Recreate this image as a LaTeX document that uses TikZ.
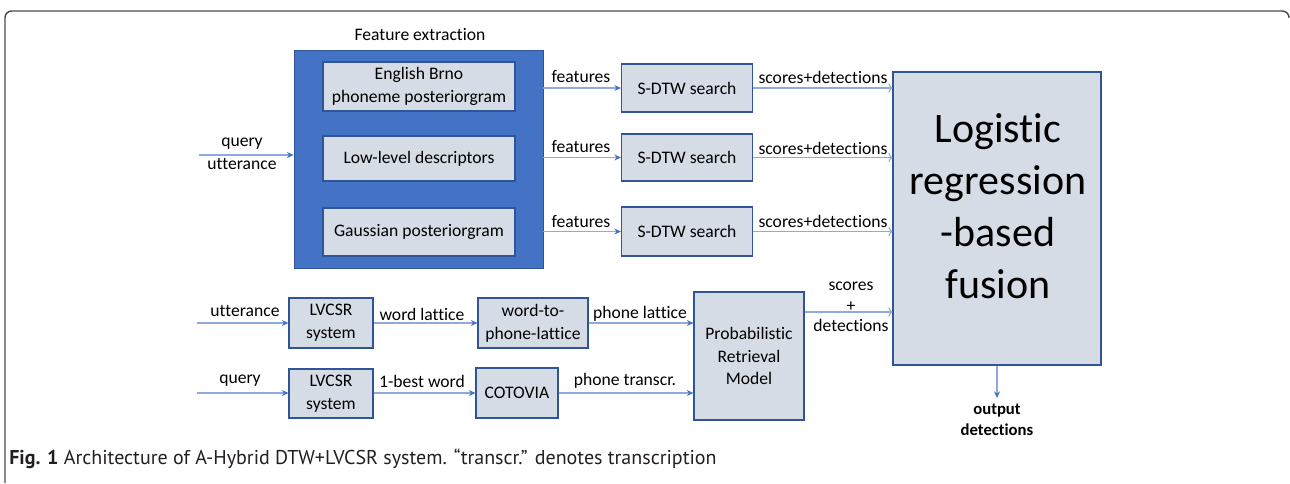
\documentclass[tikz,border=0pt]{standalone}
\usepackage{fontspec}
\setmainfont{Carlito}[Ligatures={NoCommon,NoContextual}]
\newfontfamily\capfont{PT Sans}
\usetikzlibrary{arrows.meta}
\definecolor{fxblue}{HTML}{4472C4}
\definecolor{boxfill}{HTML}{D6DCE5}
\definecolor{boxline}{HTML}{2F5597}
\definecolor{arrline}{HTML}{8FAADC}
\definecolor{framec}{HTML}{4D4D4D}
\definecolor{capc}{HTML}{231F20}
\begin{document}
\begin{tikzpicture}[x=0.75pt,y=-0.75pt,
  txt/.style={font=\fontsize{13.2}{17}\selectfont},
  bigbox/.style={draw=boxline, line width=0.6pt, fill=fxblue, inner sep=0pt},
  box/.style={draw=boxline, line width=0.8pt, fill=boxfill, inner sep=0pt, align=center, txt},
  lbl/.style={inner sep=0pt, align=center, txt},
  arr/.style={draw=arrline, line width=0.8pt, -{Stealth[length=5pt,width=4.5pt,color=fxblue]}},
  oarr/.style={draw=arrline, line width=0.8pt, -{To[length=3pt,width=7pt]}}]
\useasboundingbox (0,0) rectangle (1290,483);
\draw[framec, line width=1.1pt, rounded corners=5pt] (5,483) -- (5,11) -- (1289,11) -- (1289,16);

% feature extraction block
\node[lbl] (fetitle) at (420,35) {Feature extraction};
\node[bigbox, minimum width=186.75pt, minimum height=163.5pt] (fe) at (418.5,159) {};
\node[box, minimum width=144pt, minimum height=36.75pt] (eb) at (419,86.5) {English Brno\\phoneme posteriorgram};
\node[box, minimum width=144pt, minimum height=33.75pt] (ll) at (419,158.5) {Low-level descriptors};
\node[box, minimum width=144pt, minimum height=36pt] (gp) at (419,232) {Gaussian posteriorgram};

% S-DTW
\node[box, minimum width=98.25pt, minimum height=36pt] (s1) at (687,88) {S-DTW search};
\node[box, minimum width=98.25pt, minimum height=35.25pt] (s2) at (687,157.5) {S-DTW search};
\node[box, minimum width=98.25pt, minimum height=36.75pt] (s3) at (687,231.5) {S-DTW search};

% fusion
\node[box, minimum width=156pt, minimum height=219.75pt] (lr) at (997,218.5) {};
\node[lbl, font=\fontsize{31.5}{39}\selectfont] (lrt) at (998,206) {Logistic\\regression\\-based\\fusion};

% lower branch
\node[box, minimum width=63pt, minimum height=37.5pt] (lv1) at (331,323) {LVCSR\\system};
\node[box, minimum width=82.5pt, minimum height=37.5pt] (w2p) at (533,323) {word-to-\\phone-lattice};
\node[box, minimum width=63pt, minimum height=36.75pt] (lv2) at (331,393.5) {LVCSR\\system};
\node[box, minimum width=61.5pt, minimum height=37.5pt] (cot) at (517,393) {COTOVIA};
\node[box, minimum width=82.5pt, minimum height=96pt] (prm) at (749,356) {Probabilistic\\Retrieval\\Model};

% labels
\node[lbl] (lqu) at (242,154) {query\\utterance};
\node[lbl] (lf1) at (581,77) {features};
\node[lbl] (lf2) at (581,147) {features};
\node[lbl] (lf3) at (581,222) {features};
\node[lbl] (ls1) at (823,77) {scores+detections};
\node[lbl] (ls2) at (823,148) {scores+detections};
\node[lbl] (ls3) at (823,221) {scores+detections};
\node[lbl] (lut) at (245,311) {utterance};
\node[lbl] (lq) at (240,381) {query};
\node[lbl] (lwl) at (422,314) {word lattice};
\node[lbl] (l1b) at (422,381) {1-best word};
\node[lbl] (lpl) at (640,314) {phone lattice};
\node[lbl] (lpt) at (625,381) {phone transcr.};
\node[lbl, font=\fontsize{13.2}{15.5}\selectfont] (lsd) at (851,307) {scores\\+\\detections};
\node[lbl, font=\bfseries\fontsize{12.5}{15.5}\selectfont] (lout) at (997,420) {output\\detections};

% connectors
\coordinate (qu) at (199,155);
\draw[arr] (qu) -- (fe.west |- qu);
\draw[arr] (fe.east |- s1.west) -- (s1.west);
\draw[arr] (fe.east |- s2.west) -- (s2.west);
\draw[arr] (fe.east |- s3.west) -- (s3.west);
\draw[oarr] (s1.east) -- (lr.west |- s1.east);
\draw[oarr] (s2.east) -- (lr.west |- s2.east);
\draw[oarr] (s3.east) -- (lr.west |- s3.east);
\coordinate (p1) at (804,312);
\draw[oarr] (prm.east |- p1) -- (lr.west |- p1);
\coordinate (u0) at (197,323);
\draw[arr] (u0) -- (lv1.west);
\draw[arr] (lv1.east) -- (w2p.west);
\draw[arr] (w2p.east) -- (prm.west |- w2p.east);
\coordinate (q0) at (197,393);
\draw[arr] (q0) -- (lv2.west |- q0);
\draw[arr] (lv2.east |- q0) -- (cot.west |- q0);
\draw[arr] (cot.east |- q0) -- (prm.west |- q0);
\coordinate (out) at (997,398);
\draw[arr] (lr.south) -- (out);

% caption
\node[anchor=base west, inner sep=0pt, text=capc, font=\capfont\fontsize{15}{18}\selectfont] (cap) at (9,464) {\textbf{Fig. 1} Architecture of A-Hybrid DTW+LVCSR system. “transcr.” denotes transcription};
\end{tikzpicture}
\end{document}
